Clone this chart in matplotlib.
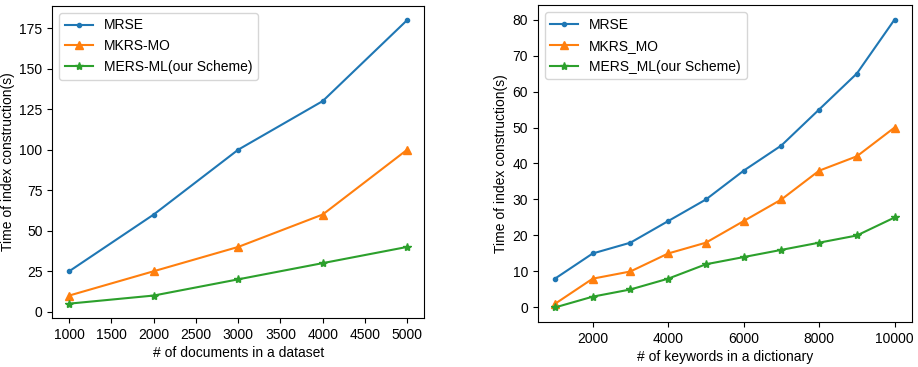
import matplotlib
matplotlib.use("Agg")
import matplotlib.pyplot as plt

plt.rcParams['font.family'] = ['Liberation Sans', 'DejaVu Sans']
plt.rcParams['font.size'] = 10

# left chart: number of documents
docs = [1000, 2000, 3000, 4000, 5000]
docs_mrse = [25, 60, 100, 130, 180]
docs_mkrs = [10, 25, 40, 60, 100]
docs_mers = [5, 10, 20, 30, 40]

# right chart: number of keywords
kw = [1000, 2000, 3000, 4000, 5000, 6000, 7000, 8000, 9000, 10000]
kw_mrse = [8, 15, 18, 24, 30, 38, 45, 55, 65, 80]
kw_mkrs = [1, 8, 10, 15, 18, 24, 30, 38, 42, 50]
kw_mers = [0, 3, 5, 8, 12, 14, 16, 18, 20, 25]

fig = plt.figure(figsize=(9.18, 3.67), dpi=100)

ax1 = fig.add_axes([0.057, 0.134, 0.405, 0.850])
ax1.plot(docs, docs_mrse, marker='.', label="MRSE")
ax1.plot(docs, docs_mkrs, marker='^', label="MKRS-MO")
ax1.plot(docs, docs_mers, marker='*', label="MERS-ML(our Scheme)")
ax1.set_xlabel("# of documents in a dataset", labelpad=3)
ax1.set_ylabel("Time of index construction(s)", labelpad=3)
ax1.set_xticks(range(1000, 5001, 500))
ax1.legend(loc="upper left")

ax2 = fig.add_axes([0.586, 0.123, 0.407, 0.863])
ax2.plot(kw, kw_mrse, marker='.', label="MRSE")
ax2.plot(kw, kw_mkrs, marker='^', label="MKRS_MO")
ax2.plot(kw, kw_mers, marker='*', label="MERS_ML(our Scheme)")
ax2.set_xlabel("# of keywords in a dictionary", labelpad=3)
ax2.set_ylabel("Time of index construction(s)", labelpad=3)
ax2.legend(loc="upper left")

fig.savefig("out.png", dpi=100)
